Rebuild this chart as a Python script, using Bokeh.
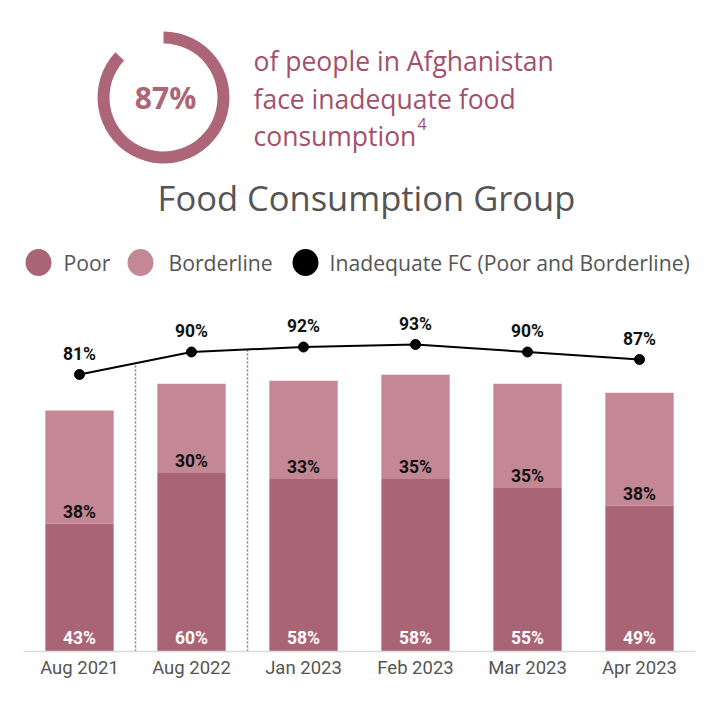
import math
from bokeh.plotting import figure
from bokeh.models import Range1d, FactorRange, ColumnDataSource
from bokeh.layouts import column
from bokeh.core.properties import value
from bokeh.embed import file_html
from bokeh.resources import INLINE

# ---------------- data ----------------
months = ["Aug 2021", "Aug 2022", "Jan 2023", "Feb 2023", "Mar 2023", "Apr 2023"]
poor = [43, 60, 58, 58, 55, 49]
borderline = [38, 30, 33, 35, 35, 38]
inadequate = [81, 90, 92, 93, 90, 87]
headline_pct = 87
headline_lines = ["of people in Afghanistan", "face inadequate food", "consumption"]
footnote = "4"
title_text = "Food Consumption Group"
legend_labels = ["Poor", "Borderline", "Inadequate FC (Poor and Borderline)"]
divider_after = [0, 1]  # dotted dividers after these category indices

POOR_C = "#A96476"
BORDER_C = "#C38893"
RING_C = "#AD6677"
TEXT_C = "#A3506C"
GRAY = "#555555"

W = 698
H_HEAD = 290
H_CHART = 395
BL, BR = 23, 3

# ---------------- header ----------------
h = figure(width=W, height=H_HEAD, x_range=Range1d(BL, W - BR), y_range=Range1d(0, H_HEAD),
           output_backend="svg", toolbar_location=None, min_border=0,
           min_border_left=BL, min_border_right=BR)
h.axis.visible = False
h.grid.visible = False
h.outline_line_color = None

start = math.pi / 2
end = start - headline_pct / 100 * 2 * math.pi
h.annular_wedge(x=[163], y=[193], inner_radius=54, outer_radius=66,
                start_angle=[end], end_angle=[start], direction="anticlock",
                fill_color=RING_C, line_color=None)
h.text(x=[165], y=[193], text=[f"{headline_pct}%"], text_align="center", text_baseline="middle",
       text_font=value("Open Sans"), text_font_style="bold", text_font_size="30px", text_color=RING_C)
h.text(x=[253, 253, 253], y=[230, 192, 155], text=headline_lines, text_align="left",
       text_baseline="middle", text_font=value("Open Sans"), text_font_size="26.5px", text_color=TEXT_C)
h.text(x=[417], y=[167], text=[footnote], text_align="left", text_baseline="middle",
       text_font=value("Open Sans"), text_font_size="16px", text_color=TEXT_C)
h.text(x=[366], y=[93], text=[title_text], text_align="center", text_baseline="middle",
       text_font=value("Open Sans"), text_font_size="34.5px", text_color=GRAY)

leg_x = [38, 140, 305]
leg_c = [POOR_C, BORDER_C, "black"]
h.ellipse(x=leg_x, y=[28] * 3, width=26, height=27, fill_color=leg_c, line_color=None)
h.text(x=[63, 168, 329], y=[28] * 3, text=legend_labels, text_align="left", text_baseline="middle",
       text_font=value("Open Sans"), text_font_size="21.2px", text_color=GRAY)

# ---------------- chart ----------------
tops2 = [a + b for a, b in zip(poor, borderline)]
src = ColumnDataSource(dict(m=months, poor=poor, border=borderline, top2=tops2,
                            zero=[0] * len(months), fc=inadequate,
                            poor_lbl=[f"{v}%" for v in poor],
                            border_lbl=[f"{v}%" for v in borderline],
                            fc_lbl=[f"{v}%" for v in inadequate]))

p = figure(width=W, height=H_CHART, x_range=FactorRange(*months, range_padding=0),
           y_range=Range1d(0, 118), output_backend="svg", toolbar_location=None,
           min_border_left=BL, min_border_right=BR, min_border_top=10, min_border_bottom=34)
p.extra_y_ranges = {"fc": Range1d(-29.8, 110.6)}
p.grid.visible = False
p.outline_line_color = None
p.yaxis.visible = False

p.vbar(x="m", bottom="zero", top="poor", width=0.61, source=src, fill_color=POOR_C, line_color=None)
p.vbar(x="m", bottom="poor", top="top2", width=0.61, source=src, fill_color=BORDER_C, line_color=None)

# dotted dividers
xs0, ys0, ys1 = [], [], []
for i in divider_after:
    xs0.append(i + 1)
    ys0.append(-29.8)
    ys1.append((inadequate[i] + inadequate[i + 1]) / 2)
p.segment(x0=xs0, y0=ys0, x1=xs0, y1=ys1, y_range_name="fc", line_color=POOR_C,
          line_width=1.5, line_dash="2 2")

p.line(x="m", y="fc", source=src, y_range_name="fc", line_color="black", line_width=2)
p.scatter(x="m", y="fc", source=src, y_range_name="fc", size=10, fill_color="black", line_color="black")

lbl_kw = dict(text_align="center", text_baseline="alphabetic", text_font=value("Roboto"),
              text_font_style="bold", text_font_size="17.5px")
p.text(x="m", y="fc", text="fc_lbl", source=src, y_range_name="fc", y_offset=-21,
       text_color="#111111", **lbl_kw)
p.text(x="m", y="poor", text="border_lbl", source=src, y_offset=-12,
       text_color="#111111", **lbl_kw)
p.text(x="m", y="zero", text="poor_lbl", source=src, y_offset=-14,
       text_color="white", **lbl_kw)

p.xaxis.axis_line_color = "#dddddd"
p.xaxis.axis_line_width = 1.5
p.xaxis.major_tick_line_color = None
p.xaxis.minor_tick_line_color = None
p.xaxis.major_tick_out = 0
p.xaxis.major_tick_in = 0
p.xaxis.major_label_text_font = "Roboto"
p.xaxis.major_label_text_font_size = "18.5px"
p.xaxis.major_label_text_color = GRAY
p.xaxis.major_label_standoff = 5

layout = column(h, p, spacing=0)
open("out.html", "w").write(file_html(layout, INLINE))
